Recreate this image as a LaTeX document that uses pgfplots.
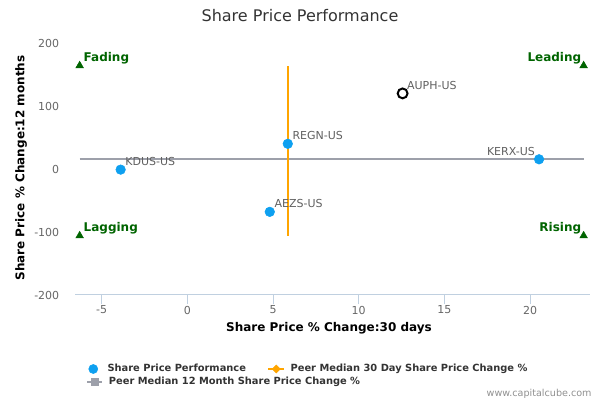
\documentclass[border=0pt]{standalone}
\usepackage{pgfplots}
\pgfplotsset{compat=1.18}
\usepackage{fontspec}
\setmainfont{DejaVu Sans}
\definecolor{dotblue}{HTML}{0EA0F0}
\definecolor{orangec}{HTML}{FFA500}
\definecolor{grayline}{HTML}{9DA0AA}
\definecolor{qgreen}{HTML}{006400}
\definecolor{axisc}{HTML}{C0D0E0}
\definecolor{tickc}{HTML}{666666}
\definecolor{titlec}{HTML}{333333}
\definecolor{labc}{HTML}{606060}
\definecolor{legc}{HTML}{333333}
\definecolor{wmc}{HTML}{909090}
\begin{document}
\begin{tikzpicture}
\path[use as bounding box] (0,0) rectangle (450pt,300pt);
\begin{axis}[
  at={(56.625pt,78.75pt)}, anchor=south west,
  scale only axis, width=385.6pt, height=189pt,
  xmin=-6.523, xmax=23.47, ymin=-200, ymax=200,
  axis x line*=bottom, axis y line*=left,
  x axis line style={draw=axisc, line width=0.75pt, -},
  y axis line style={draw=none, -},
  xtick={-5,0,5,10,15,20}, ytick={-200,-100,0,100,200},
  tick align=outside,
  major tick length=7pt,
  xtick style={draw=axisc, line width=0.75pt},
  ytick style={draw=none},
  tick label style={font=\fontsize{8.25}{10}\selectfont, text=tickc},
  /pgf/number format/assume math mode=true,
  xticklabel style={inner sep=0pt, anchor=north, yshift=-1pt},
  yticklabel style={inner sep=0pt, anchor=east, xshift=-5pt},
  clip=false,
]
% peer median 12 month
\addplot[grayline, line width=1.5pt] coordinates {(-6.28,15.4) (23.12,15.4)};
% companies
\addplot[dotblue, only marks, mark=*, mark size=3.6pt, mark options={solid, fill=dotblue, draw=none},
  nodes near coords, point meta=explicit symbolic,
  every node near coord/.append style={anchor=base west, xshift=3.4pt, yshift=3.4pt,
    inner sep=0pt, font=\fontsize{8.25}{10}\selectfont, text=labc}]
  table[meta=label] {
x y label
-3.89 -1 KDUS-US
5.86 40 REGN-US
4.81 -68 AEZS-US
};
\addplot[dotblue, only marks, mark=*, mark size=3.6pt, mark options={solid, fill=dotblue, draw=none},
  nodes near coords, point meta=explicit symbolic,
  every node near coord/.append style={anchor=base east, xshift=-3pt, yshift=2.7pt,
    inner sep=0pt, font=\fontsize{8.25}{10}\selectfont, text=labc}]
  table[meta=label] {
x y label
20.52 15.4 KERX-US
};
\addplot[black, only marks, mark=o, mark size=3.7pt, mark options={solid, draw=black, fill=white, line width=1.5pt},
  nodes near coords, point meta=explicit symbolic,
  every node near coord/.append style={anchor=base west, xshift=2.6pt, yshift=3.2pt,
    inner sep=0pt, font=\fontsize{8.25}{10}\selectfont, text=labc}]
  table[meta=label] {
x y label
12.56 120 AUPH-US
};
% peer median 30 day
\addplot[orangec, line width=1.5pt] coordinates {(5.89,-106) (5.89,164)};
% quadrant markers
\addplot[qgreen, only marks, mark=triangle*, mark size=3.3pt, mark options={solid, fill=qgreen, draw=none},
  nodes near coords, point meta=explicit symbolic,
  every node near coord/.append style={anchor=base west, xshift=2.8pt, yshift=3.4pt,
    inner sep=0pt, font=\bfseries\fontsize{9}{10}\selectfont, text=qgreen}]
  table[meta=label] {
x y label
-6.28 164 Fading
-6.28 -106 Lagging
};
\addplot[qgreen, only marks, mark=triangle*, mark size=3.3pt, mark options={solid, fill=qgreen, draw=none},
  nodes near coords, point meta=explicit symbolic,
  every node near coord/.append style={anchor=base east, xshift=-1.6pt, yshift=3.4pt,
    inner sep=0pt, font=\bfseries\fontsize{9}{10}\selectfont, text=qgreen}]
  table[meta=label] {
x y label
23.12 164 Leading
23.12 -106 Rising
};
\end{axis}
% legend item 1
\begin{axis}[at={(0pt,0pt)}, anchor=south west, scale only axis, width=450pt, height=300pt,
  xmin=0, xmax=1, ymin=0, ymax=1, hide axis,
  legend style={at={(0.147,0.0775)}, anchor=west, draw=none, fill=none, inner sep=0pt,
    font=\bfseries\fontsize{7.4}{9}\selectfont, text=legc, column sep=7.1pt,
    nodes={inner sep=0pt}},
  legend cell align=left]
\addlegendimage{legend image code/.code={\fill[dotblue] (0pt,0pt) circle (3.4pt);}}
\addlegendentry{Share Price Performance}
\end{axis}
% legend item 2
\begin{axis}[at={(0pt,0pt)}, anchor=south west, scale only axis, width=450pt, height=300pt,
  xmin=0, xmax=1, ymin=0, ymax=1, hide axis,
  legend style={at={(0.445,0.0775)}, anchor=west, draw=none, fill=none, inner sep=0pt,
    font=\bfseries\fontsize{7.4}{9}\selectfont, text=legc, column sep=4pt,
    nodes={inner sep=0pt}},
  legend cell align=left]
\addlegendimage{legend image code/.code={\draw[orangec, line width=1.5pt] (0pt,0pt) -- (12pt,0pt);
  \fill[orangec] (6pt,3pt) -- (9pt,0pt) -- (6pt,-3pt) -- (3pt,0pt) -- cycle;}}
\addlegendentry{Peer Median 30 Day Share Price Change \%}
\end{axis}
% legend item 3
\begin{axis}[at={(0pt,0pt)}, anchor=south west, scale only axis, width=450pt, height=300pt,
  xmin=0, xmax=1, ymin=0, ymax=1, hide axis,
  legend style={at={(0.1433,0.04575)}, anchor=west, draw=none, fill=none, inner sep=0pt,
    font=\bfseries\fontsize{7.4}{9}\selectfont, text=legc, column sep=4.4pt,
    nodes={inner sep=0pt}},
  legend cell align=left]
\addlegendimage{legend image code/.code={\draw[grayline, line width=1.5pt] (0pt,0pt) -- (11.1pt,0pt);
  \fill[grayline] (2.9pt,-2.65pt) rectangle (8.2pt,2.65pt);}}
\addlegendentry{Peer Median 12 Month Share Price Change \%}
\end{axis}
% titles and labels
\node[font=\fontsize{12}{14}\selectfont, text=titlec] at (225pt,288.2pt) {Share Price Performance};
\node[font=\bfseries\fontsize{9}{11}\selectfont, text=black] at (246.75pt,54pt) {Share Price \% Change:30 days};
\node[font=\bfseries\fontsize{9}{11}\selectfont, text=black, rotate=90] at (15.75pt,174pt) {Share Price \% Change:12 months};
\node[font=\fontsize{7.2}{9}\selectfont, text=wmc, anchor=east, inner sep=0pt] at (443.85pt,4.5pt) {www.capitalcube.com};
\end{tikzpicture}
\end{document}
